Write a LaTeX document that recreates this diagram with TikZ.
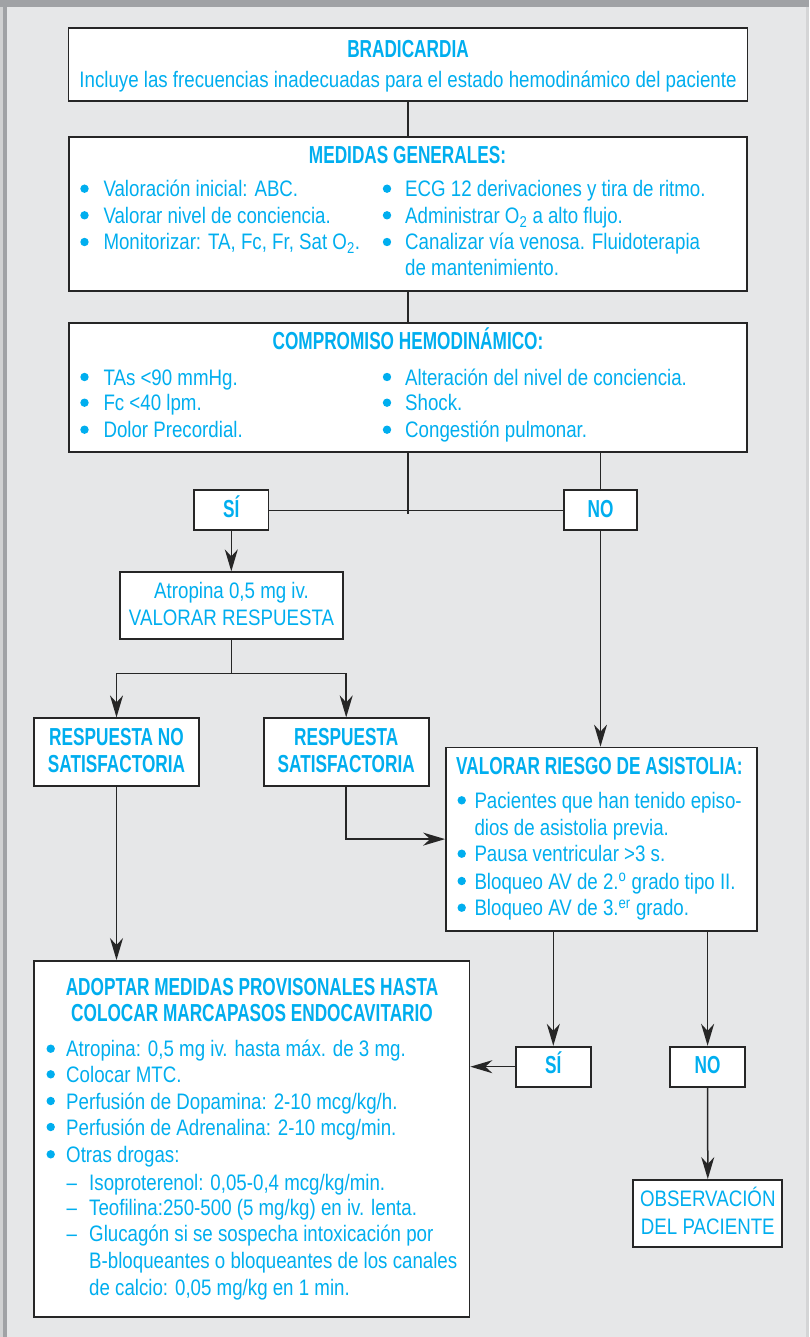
\documentclass[tikz,border=0pt]{standalone}
\usepackage{fontspec}
\setmainfont{Liberation Sans}[FakeStretch=0.835]
\newfontfamily\headfont{Liberation Sans}[FakeStretch=0.70]
\usetikzlibrary{arrows.meta}

\definecolor{cyantext}{HTML}{00AEEF}
\definecolor{pagegray}{HTML}{E6E7E8}
\definecolor{framegray}{HTML}{A0A2A5}
\definecolor{ink}{HTML}{262626}

\tikzset{
  box/.style={draw=ink, line width=1.8pt, fill=white, inner sep=0pt},
  body/.style={text=cyantext, font=\fontsize{22.4}{26.7}\selectfont, inner sep=0pt, anchor=base west},
  bodyc/.style={body, anchor=base},
  head/.style={text=cyantext, font=\headfont\bfseries\fontsize{24.6}{26.7}\selectfont, inner sep=0pt, anchor=base},
  link/.style={draw=ink, line width=1.5pt},
  arr/.style={link, -{Stealth[length=22pt,width=13pt,inset=7pt]}},
}

% bullet item: name, bullet x, text x, baseline y, text
\newcommand\bitem[5]{%
  \fill[cyantext] (#2,#4-8) circle[radius=4.2pt];
  \node[body] (#1) at (#3,#4) {#5};}
% dash item inside the last box: name, baseline y, text
\newcommand\ditem[3]{%
  \node[body] (#1d) at (66.3,#2) {–};
  \node[body] (#1) at (89,#2) {#3};}

\begin{document}
\begin{tikzpicture}[x=1pt,y=-1pt]
\useasboundingbox (0,0) rectangle (809,1337);
% page background and frame
\fill[pagegray] (0,0) rectangle (809,1337);
\fill[framegray] (0,0) rectangle (809,7);
\fill[framegray!50] (0,7) rectangle (3,1337);
\fill[framegray] (3,7) rectangle (7,1337);
\fill[framegray!45] (806,7) rectangle (809,1337);

% boxes
\node[box, minimum width=679pt, minimum height=73.3pt] (brad) at (408,64.4) {};
\node[box, minimum width=678pt, minimum height=154pt] (gen) at (408,213.9) {};
\node[box, minimum width=678pt, minimum height=128.4pt] (comp) at (408,387.5) {};
\node[box, minimum width=74.5pt, minimum height=40pt] (si1) at (231.3,510.3) {};
\node[box, minimum width=73pt, minimum height=40pt] (no1) at (600.5,510.3) {};
\node[box, minimum width=223pt, minimum height=66.7pt] (atro) at (231.5,605.6) {};
\node[box, minimum width=165pt, minimum height=67.4pt] (rns) at (116.5,752) {};
\node[box, minimum width=165pt, minimum height=67.4pt] (rs) at (346.2,752) {};
\node[box, minimum width=311pt, minimum height=183.2pt] (val) at (601.5,839.1) {};
\node[box, minimum width=435.5pt, minimum height=355.7pt] (ado) at (251.7,1138.8) {};
\node[box, minimum width=74.7pt, minimum height=40pt] (si2) at (553.3,1066.7) {};
\node[box, minimum width=74.7pt, minimum height=40pt] (no2) at (707.6,1066.7) {};
\node[box, minimum width=149pt, minimum height=67.3pt] (obs) at (707.8,1213.6) {};

% connectors
\coordinate (j1) at (408,514.3);
\coordinate (j2) at (231.5,673.3);
\draw[link] (brad.south) -- (gen.north);
\draw[link] (gen.south) -- (comp.north);
\draw[link] (comp.south) -- (j1);
\draw[link] (si1.east) -- (no1.west);
\draw[link] (comp.south -| no1.north) -- (no1.north);
\draw[arr] (si1.south) -- (si1.south |- atro.north);
\draw[link] (atro.south) -- (j2);
\draw[arr] (j2) -| (rns.north);
\draw[arr] (j2) -| (rs.north);
\draw[arr] (no1.south) -- (no1.south |- val.north);
\draw[arr] (rs.south) |- (val.west);
\draw[arr] (rns.south) -- (rns.south |- ado.north);
\draw[arr] (si2.north |- val.south) -- (si2.north);
\draw[arr] (no2.north |- val.south) -- (no2.north);
\draw[arr] (si2.west) -- (si2.west -| ado.east);
\draw[arr] (no2.south) -- (obs.north);

% BRADICARDIA
\node[head] (t1) at (408,57.3) {BRADICARDIA};
\node[bodyc] (t1b) at (408,87.3) {Incluye las frecuencias inadecuadas para el estado hemodinámico del paciente};

% MEDIDAS GENERALES
\node[head] (t2) at (407.5,163.3) {MEDIDAS GENERALES:};
\bitem{g1}{84.5}{103.3}{196.7}{Valoración inicial: ABC.}
\bitem{g2}{84.5}{103.3}{223.3}{Valorar nivel de conciencia.}
\bitem{g3}{84.5}{103.3}{250}{Monitorizar: TA, Fc, Fr, Sat O\textsubscript{2}.}
\bitem{g4}{387}{405}{196.7}{ECG 12 derivaciones y tira de ritmo.}
\bitem{g5}{387}{405}{223.3}{Administrar O\textsubscript{2} a alto flujo.}
\bitem{g6}{387}{405}{250}{Canalizar vía venosa. Fluidoterapia}
\node[body] (g6b) at (405,275.7) {de mantenimiento.};

% COMPROMISO HEMODINAMICO
\node[head] (t3) at (408,349.3) {COMPROMISO HEMODINÁMICO:};
\bitem{c1}{84.5}{103.3}{385}{TAs <90 mmHg.}
\bitem{c2}{84.5}{103.3}{410.7}{Fc <40 lpm.}
\bitem{c3}{84.5}{103.3}{437.7}{Dolor Precordial.}
\bitem{c4}{387}{405}{385}{Alteración del nivel de conciencia.}
\bitem{c5}{387}{405}{410.7}{Shock.}
\bitem{c6}{387}{405}{437.7}{Congestión pulmonar.}

% decisions
\node[head] (s1t) at (231.3,517) {SÍ};
\node[head] (n1t) at (600.5,517) {NO};

% atropine
\node[bodyc] (a1) at (231.5,598.3) {Atropina 0,5 mg iv.};
\node[bodyc] (a2) at (231.5,625.7) {VALORAR RESPUESTA};

% responses
\node[head] (r1) at (116.5,745.7) {RESPUESTA NO};
\node[head] (r2) at (116.5,772.3) {SATISFACTORIA};
\node[head] (r3) at (346.2,745.7) {RESPUESTA};
\node[head] (r4) at (346.2,772.3) {SATISFACTORIA};

% asystole risk
\node[head, anchor=base west] (v0) at (456,774.3) {VALORAR RIESGO DE ASISTOLIA:};
\bitem{v1}{461.7}{474.3}{808.3}{Pacientes que han tenido episo-}
\node[body] (v1b) at (474.3,835) {dios de asistolia previa.};
\bitem{v2}{461.7}{474.3}{861.7}{Pausa ventricular >3 s.}
\bitem{v3}{461.7}{474.3}{889}{Bloqueo AV de 2.\textsuperscript{o} grado tipo II.}
\bitem{v4}{461.7}{474.3}{915.7}{Bloqueo AV de 3.\textsuperscript{er} grado.}

% provisional measures
\node[head] (p0) at (252,995) {ADOPTAR MEDIDAS PROVISONALES HASTA};
\node[head] (p0b) at (252,1021.7) {COLOCAR MARCAPASOS ENDOCAVITARIO};
\bitem{p1}{50.7}{66}{1056.7}{Atropina: 0,5 mg iv. hasta máx. de 3 mg.}
\bitem{p2}{50.7}{66}{1082.3}{Colocar MTC.}
\bitem{p3}{50.7}{66}{1109}{Perfusión de Dopamina: 2-10 mcg/kg/h.}
\bitem{p4}{50.7}{66}{1135}{Perfusión de Adrenalina: 2-10 mcg/min.}
\bitem{p5}{50.7}{66}{1162.3}{Otras drogas:}
\ditem{q1}{1190}{Isoproterenol: 0,05-0,4 mcg/kg/min.}
\ditem{q2}{1215.7}{Teofilina:250-500 (5 mg/kg) en iv. lenta.}
\ditem{q3}{1241.7}{Glucagón si se sospecha intoxicación por}
\node[body] (q3b) at (89,1268.3) {B-bloqueantes o bloqueantes de los canales};
\node[body] (q3c) at (89,1295) {de calcio: 0,05 mg/kg en 1 min.};

% second decisions
\node[head] (s2t) at (553.3,1073.3) {SÍ};
\node[head] (n2t) at (707.6,1073.3) {NO};

% observation
\node[bodyc] (o1) at (707.8,1206.7) {OBSERVACIÓN};
\node[bodyc] (o2) at (707.8,1234) {DEL PACIENTE};
\end{tikzpicture}
\end{document}
